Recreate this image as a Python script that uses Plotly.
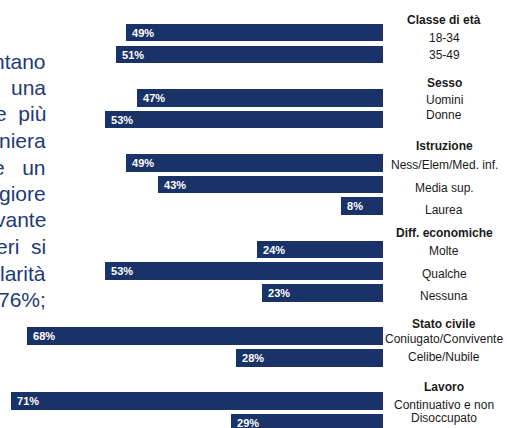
import plotly.graph_objects as go

# ---- data ----
groups = ["Classe di età", "Sesso", "Istruzione", "Diff. economiche", "Stato civile", "Lavoro"]
group_labels = [
    ["18-34", "35-49"],
    ["Uomini", "Donne"],
    ["Ness/Elem/Med. inf.", "Media sup.", "Laurea"],
    ["Molte", "Qualche", "Nessuna"],
    ["Coniugato/Convivente", "Celibe/Nubile"],
    ["Continuativo e non", "Disoccupato"],
]
group_values = [
    [49, 51],
    [47, 53],
    [49, 43, 8],
    [24, 53, 23],
    [68, 28],
    [71, 29],
]
paragraph_lines = [
    "ntano",
    "una",
    "e\u00a0\u00a0più",
    "niera",
    "e\u00a0\u00a0\u00a0un",
    "giore",
    "vante",
    "eri\u00a0\u00a0si",
    "larità",
    "76%;",
]

# ---- style ----
BAR = "#193369"
TXT = "#22397a"
LAB = "#1a1a1a"
FONT = "Liberation Sans, Arial, sans-serif"
W, H = 507, 428
header_shift_px = [-9, -7, -5, -5, -9, -7]
label_shift_px = [-5.5, -1, -2, 4, -2, -4, -4, -2, -3, -3, -3, 1, -4, 5]

# ---- build slots ----
ys, xs, labs, header_slots = [], [], [], []
slot = 0
for g, labels, vals in zip(groups, group_labels, group_values):
    header_slots.append((slot, g))
    slot += 1
    for lab, v in zip(labels, vals):
        ys.append(slot)
        xs.append(v)
        labs.append(lab)
        slot += 1

fig = go.Figure()
fig.add_trace(go.Bar(
    x=xs, y=ys, orientation="h",
    marker=dict(color=BAR, line=dict(width=0)),
    width=0.81,
    texttemplate="\u00a0<b>%{x}%</b>",
    textposition="inside",
    insidetextanchor="end",
    textangle=0,
    constraintext="none",
    textfont=dict(color="white", size=11, family=FONT),
    hoverinfo="skip",
))

plot_right = 383
px_per_unit_y = 21.68
top_px = 11
r0 = -top_px / px_per_unit_y
r1 = r0 + H / px_per_unit_y
px_per_pct = 5.24
xmax = plot_right / px_per_pct

annotations = []
label_x = 444 / plot_right
for (s, g), sh in zip(header_slots, header_shift_px):
    annotations.append(dict(x=label_x, xref="paper", y=s, yref="y", text="<b>" + g + "</b>",
                            showarrow=False, xanchor="center", yanchor="middle", yshift=sh,
                            font=dict(size=12, color=LAB, family=FONT)))
for s, lab, sh in zip(ys, labs, label_shift_px):
    annotations.append(dict(x=label_x, xref="paper", y=s, yref="y", text=lab,
                            showarrow=False, xanchor="center", yanchor="middle", yshift=sh,
                            font=dict(size=12, color=LAB, family=FONT)))

line_top, line_step = 61, 26.5
for i, t in enumerate(paragraph_lines):
    ypx = line_top + i * line_step
    annotations.append(dict(x=48 / plot_right, xref="paper", y=1 - ypx / H, yref="paper", text=t,
                            showarrow=False, xanchor="right", yanchor="middle",
                            font=dict(size=21, color=TXT, family=FONT)))

fig.update_layout(
    width=W, height=H,
    margin=dict(l=0, r=W - plot_right, t=0, b=0, pad=0),
    paper_bgcolor="white", plot_bgcolor="white",
    showlegend=False,
    xaxis=dict(range=[xmax, 0], visible=False, fixedrange=True),
    yaxis=dict(range=[r1, r0], visible=False, fixedrange=True),
    annotations=annotations,
    bargap=0,
)

fig.write_html("out.html", config={"displayModeBar": False},
               post_script="document.body.style.margin='0';document.body.style.overflow='hidden';")
